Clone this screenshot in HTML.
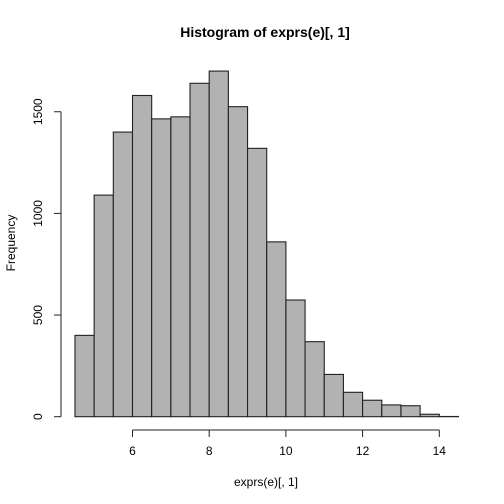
<!DOCTYPE html>
<html><head><meta charset="utf-8"><style>body{margin:0;background:#fff}svg{display:block}text{font-family:"Liberation Sans",sans-serif}</style></head>
<body>
<svg id="c" width="504" height="504">
<text x="265" y="37" text-anchor="middle" font-size="14" font-weight="bold">Histogram of exprs(e)[, 1]</text>
<text x="266" y="486" text-anchor="middle" font-size="12">exprs(e)[, 1]</text>
<text transform="translate(15,243) rotate(-90)" text-anchor="middle" font-size="12">Frequency</text>
</svg>
<script>
const binStart=4.5, binWidth=0.5;
const counts=[400,1090,1400,1580,1465,1475,1640,1700,1525,1320,860,574,369,208,120,81,58,54,12,1];
const xTicks=[6,8,10,12,14];
const yTicks=[0,500,1000,1500];
const sx=v=>132.5+(v-6)*38.35;
const sy=v=>416.7-v*0.2033;
const svg=document.getElementById('c');const NS='http://www.w3.org/2000/svg';
function mk(t,a){const e=document.createElementNS(NS,t);for(const k in a)e.setAttribute(k,a[k]);svg.appendChild(e);return e;}
counts.forEach((c,i)=>{const x0=sx(binStart+i*binWidth),x1=sx(binStart+(i+1)*binWidth);
const r=mk('rect',{x:x0,y:sy(c),width:x1-x0,height:sy(0)-sy(c),fill:'#b2b2b2',stroke:'#222','stroke-width':1.1});

});
const xa=mk('line',{x1:sx(xTicks[0]),x2:sx(xTicks[xTicks.length-1]),y1:430,y2:430,stroke:'#222'});


xTicks.forEach(t=>{mk('line',{x1:sx(t),x2:sx(t),y1:430,y2:437,stroke:'#222'});
const tx=mk('text',{x:sx(t),y:455,'text-anchor':'middle','font-size':12});tx.textContent=t;

});
const ya=mk('line',{x1:61,x2:61,y1:sy(yTicks[0]),y2:sy(yTicks[yTicks.length-1]),stroke:'#222'});


yTicks.forEach(t=>{mk('line',{x1:54,x2:61,y1:sy(t),y2:sy(t),stroke:'#222'});
const tx=mk('text',{x:0,y:0,'text-anchor':'middle','font-size':12,transform:`translate(42,${sy(t)}) rotate(-90)`});tx.textContent=t;

});
</script>
</body></html>
